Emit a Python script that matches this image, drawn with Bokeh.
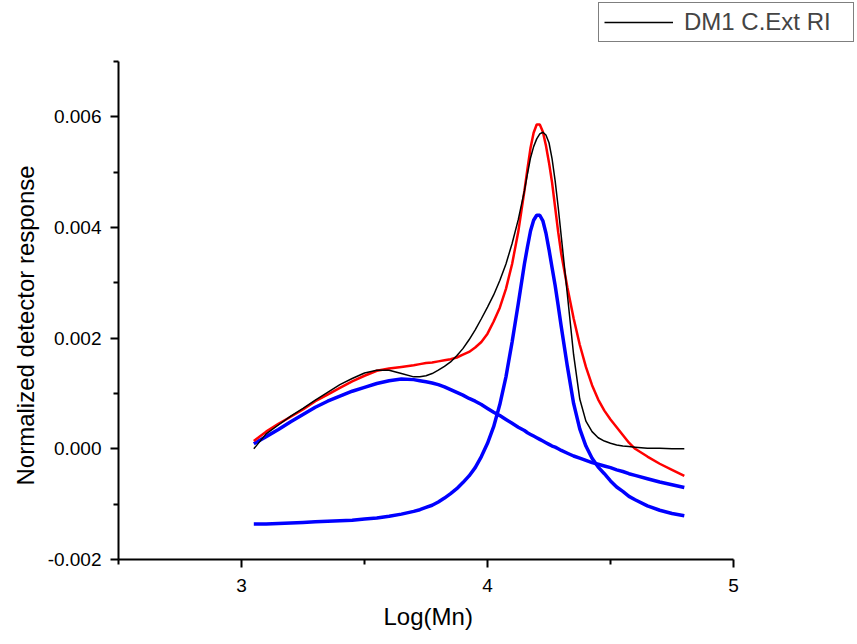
from bokeh.plotting import figure
from bokeh.models import (Range1d, FixedTicker, PrintfTickFormatter, Legend, LegendItem,
                          ColumnDataSource, Title)
from bokeh.embed import file_html
from bokeh.resources import INLINE

# ---- data ----
log_mn = [3.05, 3.1, 3.15, 3.2, 3.25, 3.3, 3.35, 3.4, 3.45, 3.5, 3.55, 3.6, 3.65,
          3.7, 3.725, 3.75, 3.775, 3.8, 3.825, 3.85, 3.875, 3.9, 3.925, 3.95, 3.975,
          4.0, 4.025, 4.05, 4.075, 4.1, 4.125, 4.15,
          4.1625, 4.175, 4.1875, 4.2, 4.2125, 4.225, 4.2375, 4.25, 4.2625, 4.275, 4.2875, 4.3,
          4.325, 4.35, 4.375, 4.4, 4.425, 4.45, 4.475, 4.5, 4.525, 4.55, 4.575, 4.6,
          4.65, 4.7, 4.75, 4.8]

dm1_ri = [0.0, 0.00027, 0.00043, 0.00059, 0.00073, 0.00088, 0.00102, 0.00116, 0.00127,
          0.00137, 0.00142, 0.00142, 0.00136,
          0.0013, 0.0013, 0.00132, 0.00136, 0.00142, 0.00149, 0.00157, 0.00168, 0.00181,
          0.00197, 0.00215, 0.00235, 0.00256, 0.00278, 0.00304, 0.00334, 0.00371, 0.00414,
          0.00466,
          0.00497, 0.00526, 0.00546, 0.0056, 0.00569, 0.00572, 0.00567, 0.00553, 0.00524,
          0.00484, 0.00436, 0.00383,
          0.00277, 0.0017, 0.0009, 0.0005, 0.00031, 0.0002, 0.00014, 0.0001, 0.00007,
          0.00005, 0.00004, 0.00003,
          0.00001, 0.00001, 0.0, 0.0]

fit_sum = [0.00014, 0.00031, 0.00045, 0.00058, 0.00071, 0.00086, 0.00098, 0.0011, 0.00122,
           0.00132, 0.00141, 0.00145, 0.00148,
           0.00151, 0.00153, 0.00155, 0.00156, 0.00158, 0.0016, 0.00162, 0.00165, 0.0017,
           0.00175, 0.00183, 0.00193, 0.00208, 0.0023, 0.00255, 0.00289, 0.00334, 0.00392,
           0.00466,
           0.00506, 0.00544, 0.00571, 0.00586, 0.00586, 0.00573, 0.00548, 0.00517, 0.00481,
           0.00436, 0.00391, 0.00352,
           0.00291, 0.00236, 0.00188, 0.00148, 0.00115, 0.00089, 0.00069, 0.00053, 0.00039,
           0.00025, 0.00011, 0.0,
           -0.00014, -0.00027, -0.00038, -0.00049]

peak_broad = [0.00009, 0.00022, 0.00035, 0.00049, 0.00062, 0.00075, 0.00086, 0.00095,
              0.00104, 0.00111, 0.00118, 0.00123, 0.00126,
              0.00125, 0.00123, 0.00121, 0.00119, 0.00116, 0.00112, 0.00107, 0.00102, 0.00097,
              0.00091, 0.00086, 0.0008, 0.00073, 0.00066, 0.0006, 0.00053, 0.00046, 0.00039,
              0.00033,
              0.00029, 0.00026, 0.00023, 0.0002, 0.00017, 0.00014, 0.00011, 0.00008, 0.00005,
              0.00003, 0.0, -0.00003,
              -0.00008, -0.00013, -0.00017, -0.00021, -0.00025, -0.00028, -0.00031, -0.00034,
              -0.00038, -0.00041, -0.00045, -0.00048,
              -0.00054, -0.0006, -0.00065, -0.0007]

peak_narrow = [-0.00136, -0.00136, -0.00135, -0.00134, -0.00133, -0.00132, -0.00131, -0.0013,
               -0.00129, -0.00127, -0.00125, -0.00122, -0.00118,
               -0.00113, -0.0011, -0.00106, -0.00102, -0.00096, -0.00089, -0.00081, -0.00072,
               -0.00061, -0.00049, -0.00034, -0.00014, 0.0001, 0.0004, 0.0008, 0.0013, 0.00193,
               0.00262, 0.00334,
               0.00365, 0.00394, 0.00413, 0.00422, 0.00422, 0.00412, 0.0039, 0.0036, 0.00327,
               0.00295, 0.00258, 0.0022,
               0.00148, 0.00082, 0.00036, 0.00005, -0.00017, -0.00033, -0.00045, -0.00058,
               -0.00069, -0.00077, -0.00086, -0.00092,
               -0.00103, -0.00111, -0.00117, -0.00121]

x_ticks = [3, 4, 5]
x_minor = [2.5, 3.5, 4.5]
y_ticks = [-0.002, 0.0, 0.002, 0.004, 0.006]
y_minor = [-0.001, 0.001, 0.003, 0.005, 0.007]
x_axis_span = (2.5, 5.0)
y_axis_span = (-0.002, 0.007)
x_title = "Log(Mn)"
y_title = "Normalized detector response"
legend_label = "DM1 C.Ext RI"

src = ColumnDataSource(dict(x=log_mn, ri=dm1_ri, fit=fit_sum, b1=peak_broad, b2=peak_narrow))

FONT = "Liberation Sans"

# frame extends to the top/right canvas edges so the legend (outside the axes box) is not
# clipped; the axes themselves are bounded to the original data spans.
p = figure(width=857, height=644, output_backend="svg", toolbar_location=None,
           x_range=Range1d(2.5, 5.504), y_range=Range1d(-0.002, 0.0081),
           min_border_left=118, min_border_right=0, min_border_top=0, min_border_bottom=85)
p.outline_line_color = None
p.xgrid.visible = False
p.ygrid.visible = False
p.background_fill_color = "white"
p.border_fill_color = "white"

p.xaxis.ticker = FixedTicker(ticks=x_ticks, minor_ticks=x_minor)
p.yaxis.ticker = FixedTicker(ticks=y_ticks, minor_ticks=y_minor)
p.xaxis.bounds = x_axis_span
p.yaxis.bounds = y_axis_span
p.yaxis.formatter = PrintfTickFormatter(format="%.3f")
p.xaxis.formatter = PrintfTickFormatter(format="%d")

for ax in (p.xaxis[0], p.yaxis[0]):
    ax.axis_line_width = 2
    ax.axis_line_color = "black"
    ax.major_tick_line_width = 2
    ax.minor_tick_line_width = 2
    ax.major_tick_line_color = "black"
    ax.minor_tick_line_color = "black"
    ax.major_tick_in = 0
    ax.major_tick_out = 8
    ax.minor_tick_in = 0
    ax.minor_tick_out = 5
    ax.major_label_text_font = FONT
    ax.major_label_text_font_size = "19px"
    ax.major_label_text_color = "black"

p.xaxis.major_label_standoff = 11
p.yaxis.major_label_standoff = 9

# axis titles as side-panel titles so they centre on the bounded axes, not the wider frame
xt = Title(text=x_title, align="left", offset=265, standoff=13,
           text_font=FONT, text_font_size="24px", text_font_style="normal", text_color="black")
yt = Title(text=y_title, align="left", offset=74, standoff=11,
           text_font=FONT, text_font_size="24px", text_font_style="normal", text_color="black")
p.add_layout(xt, "below")
p.add_layout(yt, "left")

r_b2 = p.line("x", "b2", source=src, line_color="#0000FF", line_width=3.5)
r_b1 = p.line("x", "b1", source=src, line_color="#0000FF", line_width=3.5)
r_fit = p.line("x", "fit", source=src, line_color="#FF0000", line_width=2.5)
r_ri = p.line("x", "ri", source=src, line_color="black", line_width=1.5)

legend = Legend(items=[LegendItem(label=legend_label, renderers=[r_ri])],
                location=(480, 517), padding=5, spacing=0, margin=0,
                glyph_width=69, label_standoff=11, label_width=164,
                label_text_font=FONT, label_text_font_size="24px",
                border_line_color="black", border_line_width=1,
                background_fill_color="white", background_fill_alpha=1.0)
p.add_layout(legend, "center")

open("out.html", "w").write(file_html(p, INLINE))
